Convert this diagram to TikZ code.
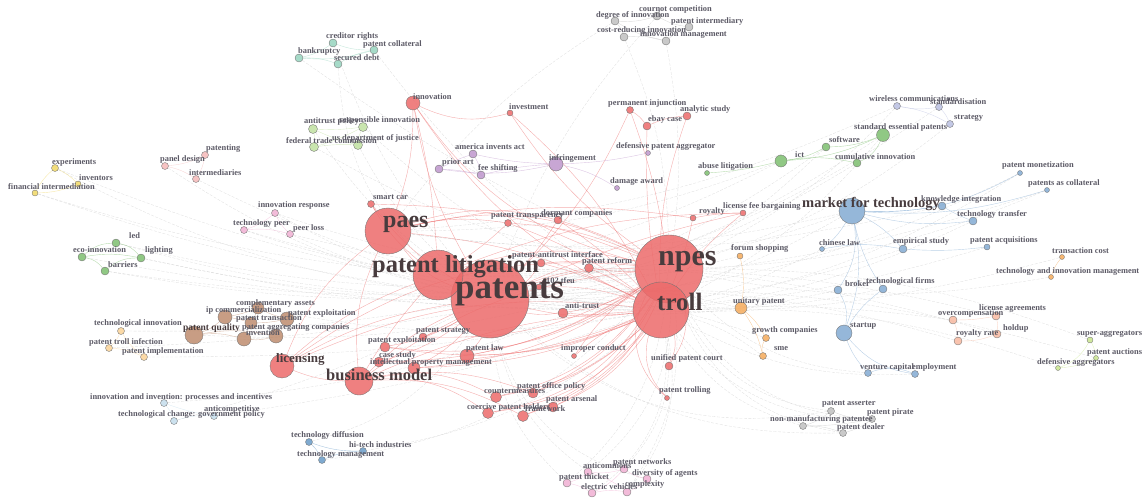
\documentclass[tikz,border=0pt]{standalone}
\usepackage{fontspec}
\setmainfont{Liberation Serif}
\pgfdeclarelayer{bg}
\pgfsetlayers{bg,main}
\definecolor{kRed}{RGB}{236,106,106}
\definecolor{kTeal}{RGB}{150,212,190}
\definecolor{kLGreen}{RGB}{192,225,160}
\definecolor{kGreen}{RGB}{125,190,110}
\definecolor{kPurple}{RGB}{190,150,205}
\definecolor{kGray}{RGB}{192,192,192}
\definecolor{kBlue}{RGB}{130,170,210}
\definecolor{kLav}{RGB}{185,190,225}
\definecolor{kBrown}{RGB}{190,140,110}
\definecolor{kPink}{RGB}{240,175,210}
\definecolor{kLPink}{RGB}{245,185,185}
\definecolor{kYellow}{RGB}{240,215,100}
\definecolor{kOrange}{RGB}{245,170,90}
\definecolor{kSalmon}{RGB}{248,185,160}
\definecolor{kLBlue}{RGB}{195,220,235}
\definecolor{kLime}{RGB}{200,228,140}
\definecolor{kPeach}{RGB}{250,210,150}
\definecolor{kSteel}{RGB}{105,155,200}
\definecolor{kLbl}{RGB}{92,90,102}
\definecolor{kBig}{RGB}{72,60,62}
\tikzset{
  dot/.style={circle,draw=black!55,line width=0.35pt,fill=#1,fill opacity=0.85,inner sep=0pt},
  lbl/.style={anchor=base west,inner sep=0pt,text=kLbl,font=\bfseries\fontsize{8.4}{9}\selectfont},
  big/.style={anchor=base west,inner sep=0pt,text=kBig,font=\bfseries\fontsize{#1}{#1}\selectfont},
  cedge/.style={draw=#1,line width=0.4pt,opacity=0.55},
  gedge/.style={draw=black!22,line width=0.35pt,opacity=0.55,dash pattern=on 3pt off 1.5pt}
}
\begin{document}
\begin{tikzpicture}[x=1pt,y=-1pt]
\useasboundingbox (0,0) rectangle (1146,498);
\foreach \n/\x/\y/\d/\c in {
  pat/490/299/78/kRed, plit/438/275/50/kRed, paes/388/231/46/kRed, npes/669/269/68/kRed, troll/661/310/56/kRed,
  bmod/359/381/28/kRed, lic/282/366/24/kRed, inno/413/103/14/kRed, inv/510/113/6/kRed,
  perm/630/110/7/kRed, anal/687/116/8/kRed, ebay/647/126/8/kRed, scar/371/204/7/kRed,
  ptrn/508/223/7/kRed, dorm/558/220/8/kRed, roy/693/218/6/kRed, lfb/743/213/6/kRed,
  pai/541/263/8/kRed, pref/589/268/9/kRed, tfeu/539/287/6/kRed, atr/563/313/10/kRed,
  pstr/423/337/8/kRed, pexr/385/347/10/kRed, case/379/362/10/kRed, ipm/414/368/12/kRed,
  plaw/467/356/14/kRed, impc/574/356/5/kRed, upc/669/366/8/kRed, ptrl/667/398/5/kRed,
  pop/533/393/10/kRed, ctm/496/397/11/kRed, pars/553/407/10/kRed, cph/488/413/11/kRed, frm/523/416/11/kRed,
  cred/333/43/8/kTeal, pcol/374/50/8/kTeal, bank/299/58/8/kTeal, secd/338/64/8/kTeal,
  cour/657/16/8/kGray, degi/615/21/8/kGray, pint/689/27/8/kGray, cost/624/37/8/kGray, imgt/666/41/8/kGray,
  atp/313/129/9/kLGreen, resp/363/127/9/kLGreen, ftc/314/147/9/kLGreen, doj/358/145/9/kLGreen,
  exper/55/168/7/kYellow, invt/78/184/6/kYellow, fint/35/193/6/kYellow,
  panel/165/166/7/kLPink, ptng/205/155/7/kLPink, inter/196/179/7/kLPink,
  iresp/275/213/7/kPink, tpeer/244/230/7/kPink, ploss/290/234/7/kPink,
  led/116/243/8/kGreen, eco/82/257/8/kGreen, light/141/258/8/kGreen, barr/105/271/8/kGreen,
  comp/258/308/12/kBrown, ipc/225/317/14/kBrown, pexb/287/319/14/kBrown, ptra/251/323/12/kBrown,
  pq/194/335/18/kBrown, pagg/276/336/14/kBrown, invn/244/339/14/kBrown,
  tinn/121/331/7/kPeach, ptin/109/348/7/kPeach, pimp/144/357/7/kPeach,
  iinv/164/403/7/kLBlue, anti/214/416/7/kLBlue, tcgp/174/421/7/kLBlue,
  tdif/309/442/7/kSteel, hti/363/451/7/kSteel, tmgt/322/460/7/kSteel,
  aia/473/154/8/kPurple, part/439/169/8/kPurple, fee/481/175/8/kPurple, infr/556/164/14/kPurple,
  dpa/648/153/5/kPurple, dmg/617/188/5/kPurple,
  abl/707/173/5/kGreen, sep/883/135/13/kGreen, soft/826/147/8/kGreen, ict/781/161/12/kGreen, cum/857/163/8/kGreen,
  wire/897/106/7/kLav, std/939/107/7/kLav, strat/950/124/7/kLav,
  mft/852/211/26/kBlue, pmon/1020/173/5/kBlue, pcoll/1047/190/5/kBlue, kint/942/206/8/kBlue,
  ttr/973/221/8/kBlue, chl/822/249/5/kBlue, emp/903/249/8/kBlue, pacq/987/247/6/kBlue,
  brok/838/290/8/kBlue, tfirm/883/289/8/kBlue, start/844/333/16/kBlue, vc/868/373/7/kBlue, empl/915/374/7/kBlue,
  fs/740/256/6/kOrange, up/741/308/12/kOrange, gc/766/338/7/kOrange, sme/763/356/7/kOrange,
  tcost/1062/257/5/kOrange, tim/1051/277/5/kOrange,
  ovc/953/320/8/kSalmon, lagr/996/316/8/kSalmon, hold/997/334/8/kSalmon, rrate/958/341/8/kSalmon,
  supa/1090/340/6/kLime, pauc/1096/358/5/kLime, dagg/1058/368/5/kLime,
  pass/831/411/7/kGray, ppir/872/419/7/kGray, nmp/803/426/7/kGray, pdeal/843/433/7/kGray,
  acom/588/472/8/kPink, pnet/624/469/8/kPink, div/647/479/8/kPink, pthk/567/483/8/kPink,
  cplx/627/492/8/kPink, ev/592/493/8/kPink}
  \node[dot=\c,minimum size=\d pt] (\n) at (\x,\y) {};
\begin{pgfonlayer}{bg}
\foreach \a/\b/\bd in {
  exper/pat/-10, fint/npes/-10, fint/pat/-5, panel/pat/-10, inter/troll/-10, iresp/npes/-10, tpeer/troll/-5,
  ploss/pat/-5, led/npes/-10, light/pat/-5, eco/troll/-5, barr/pat/-5, cred/pat/-10, pcol/troll/-10,
  bank/npes/-5, secd/plit/-20, atp/pat/-10, ftc/npes/-10, resp/troll/-10, doj/pat/-10, mft/pat/15,
  mft/plit/10, mft/paes/10, sep/pat/10, ict/paes/10, soft/npes/5, cum/pat/10, wire/paes/10, std/pat/10,
  pmon/troll/10, pcoll/npes/10, ttr/pat/15, pacq/troll/5, tcost/pat/10, tim/npes/10, ovc/troll/-5,
  rrate/pat/-10, supa/npes/-10, dagg/troll/-10, pauc/pat/-10, vc/npes/20, empl/troll/15, pass/npes/30,
  nmp/troll/20, pdeal/pat/20, ppir/npes/30, acom/pat/20, pthk/npes/-20, ev/troll/-30, div/pat/30,
  cplx/npes/-20, tdif/pat/-20, tmgt/npes/-20, hti/troll/-15, iinv/npes/-10, tcgp/pat/-5, anti/troll/-5,
  tinn/pat/-5, ptin/npes/-5, pimp/troll/-5, pq/npes/-10, comp/troll/-10, cour/pat/-10, cost/npes/10,
  imgt/troll/10, degi/paes/-10, chl/troll/5, emp/pat/10, brok/pat/10, tfirm/troll/5, gc/pat/-10,
  sme/troll/-10, fs/plit/10, up/pat/-10, lagr/npes/-5, hold/plit/-10, kint/paes/10,
  exper/troll/-8, led/pat/-6, light/troll/-6, barr/npes/-8, iresp/pat/-6, ploss/npes/-8, tpeer/plit/-5,
  pass/pat/25, ppir/troll/25, pdeal/npes/30, acom/npes/-25, pnet/troll/-25, pthk/pat/20, cplx/troll/-25,
  wire/npes/10, sep/troll/10, soft/pat/10, strat/npes/10, ict/plit/8, pmon/pat/12, pcoll/plit/10}
  \draw[gedge] (\a) to[bend left=\bd] (\b);
\foreach \a/\b/\bd in {
  pat/npes/10, pat/troll/-10, pat/paes/15, pat/plit/0, plit/npes/15, paes/npes/20, paes/troll/10,
  bmod/npes/15, bmod/troll/10, lic/npes/20, lic/troll/15, bmod/pat/10, lic/pat/10, lic/plit/10,
  bmod/plit/5, inno/paes/10, inno/pat/-10, inno/npes/-20, inno/inv/-20, inv/troll/10, inno/plit/5,
  scar/paes/0, scar/pat/-10, ptrn/npes/10, ptrn/paes/-10, dorm/paes/-15, dorm/npes/5, roy/lfb/5,
  roy/paes/-10, lfb/pat/-5, lfb/plit/-10, pai/npes/5, pai/pat/10, pref/troll/5, pref/pat/-5,
  tfeu/troll/10, atr/npes/-10, atr/pat/10, pstr/npes/-15, pexr/npes/-20, pexr/troll/-15, case/npes/-15,
  case/troll/-10, ipm/npes/-15, ipm/troll/-10, plaw/npes/-10, plaw/troll/-10, impc/troll/10, upc/troll/-20,
  ptrl/troll/30, ptrl/npes/40, pop/npes/-15, pop/troll/-10, ctm/npes/-20, ctm/troll/-15, pars/troll/-15,
  pars/npes/-20, cph/npes/-25, cph/troll/-20, frm/troll/-15, frm/npes/-20, ctm/bmod/-20, cph/bmod/-20,
  frm/bmod/-15, pop/bmod/-15, perm/ebay/10, ebay/anal/10, perm/pat/10, anal/troll/-10, pexr/pat/-10,
  case/pat/-10, ipm/pat/-10, plaw/pat/-10, pstr/pat/-5,
  ptrn/troll/8, dorm/troll/6, pai/troll/5, pref/npes/-5, atr/troll/-5, impc/npes/10, upc/npes/-25,
  perm/npes/5, ebay/troll/-5, inv/npes/-10, scar/npes/10, roy/troll/5, lfb/troll/-8, lic/bmod/-10,
  inno/troll/-15, scar/plit/-10, lic/paes/15, bmod/paes/15, ptrn/plit/5, dorm/pat/5}
  \draw[cedge=kRed] (\a) to[bend left=\bd] (\b);
\foreach \a/\b/\bd/\c in {
  aia/fee/10/kPurple, part/fee/5/kPurple, part/infr/-10/kPurple, fee/infr/5/kPurple, aia/infr/-5/kPurple,
  infr/dpa/-5/kPurple, infr/dmg/10/kPurple, part/aia/5/kPurple,
  cred/pcol/-10/kTeal, bank/cred/-10/kTeal, bank/secd/10/kTeal, secd/pcol/10/kTeal, bank/pcol/-10/kTeal,
  degi/cour/-10/kGray, cour/pint/-10/kGray, degi/cost/10/kGray, cost/imgt/10/kGray, pint/imgt/-10/kGray,
  degi/imgt/-10/kGray,
  atp/resp/-5/kLGreen, atp/ftc/10/kLGreen, ftc/doj/5/kLGreen, resp/doj/-10/kLGreen, atp/doj/-5/kLGreen,
  ftc/resp/-5/kLGreen,
  exper/invt/10/kYellow, invt/fint/10/kYellow, exper/fint/-10/kYellow,
  panel/ptng/-10/kLPink, panel/inter/10/kLPink, ptng/inter/10/kLPink,
  iresp/tpeer/10/kPink, tpeer/ploss/10/kPink, iresp/ploss/-10/kPink,
  led/eco/-20/kGreen, led/light/20/kGreen, eco/barr/20/kGreen, light/barr/-20/kGreen, eco/light/10/kGreen,
  pq/ipc/-10/kBrown, pq/invn/10/kBrown, ipc/ptra/5/kBrown, ptra/pexb/-5/kBrown, pexb/pagg/10/kBrown,
  pagg/invn/10/kBrown, comp/ptra/5/kBrown, comp/pexb/-5/kBrown, ipc/comp/-5/kBrown, pq/pagg/10/kBrown,
  tinn/ptin/10/kPeach, ptin/pimp/10/kPeach, tinn/pimp/-10/kPeach,
  iinv/tcgp/10/kLBlue, tcgp/anti/10/kLBlue, iinv/anti/-5/kLBlue,
  tdif/tmgt/10/kSteel, tmgt/hti/10/kSteel, tdif/hti/-10/kSteel,
  abl/ict/-5/kGreen, ict/soft/-10/kGreen, soft/sep/-10/kGreen, ict/cum/10/kGreen, cum/sep/-20/kGreen,
  ict/sep/-10/kGreen,
  wire/std/-10/kLav, std/strat/10/kLav, wire/strat/10/kLav,
  mft/kint/-5/kBlue, mft/ttr/-10/kBlue, mft/pmon/-15/kBlue, mft/pcoll/-10/kBlue, mft/chl/10/kBlue,
  mft/emp/10/kBlue, emp/pacq/-5/kBlue, chl/emp/10/kBlue, mft/brok/20/kBlue, mft/tfirm/-10/kBlue,
  brok/start/20/kBlue, tfirm/start/-10/kBlue, start/vc/-10/kBlue, vc/empl/20/kBlue, start/empl/-20/kBlue,
  mft/start/15/kBlue, ttr/kint/5/kBlue,
  fs/up/10/kOrange, up/gc/10/kOrange, gc/sme/-20/kOrange, tcost/tim/-10/kOrange, up/sme/10/kOrange,
  ovc/lagr/-5/kSalmon, ovc/rrate/10/kSalmon, rrate/hold/-10/kSalmon, lagr/hold/10/kSalmon,
  supa/dagg/20/kLime, dagg/pauc/-10/kLime, supa/pauc/10/kLime,
  pass/ppir/-10/kGray, nmp/pass/-10/kGray, nmp/pdeal/10/kGray, pdeal/ppir/-10/kGray, nmp/ppir/-5/kGray,
  acom/pnet/-10/kPink, pnet/div/-10/kPink, pthk/acom/-10/kPink, pthk/ev/10/kPink, ev/cplx/10/kPink,
  cplx/div/-10/kPink, acom/cplx/10/kPink, pnet/ev/10/kPink}
  \draw[cedge=\c] (\a) to[bend left=\bd] (\b);
\end{pgfonlayer}
\foreach \n/\x/\y/\t in {
  cred/326/38/creditor rights, pcol/363/46/patent collateral, bank/298/53/bankruptcy, secd/334/60/secured debt,
  cour/639/11/cournot competition, degi/596/17/degree of innovation, pint/671/23/patent intermediary,
  cost/597/32/cost-reducing innovation, imgt/640/36/innovation management,
  atp/304/123/antitrust policy, resp/339/122/responsible innovation, ftc/286/143/federal trade commission,
  doj/332/140/us department of justice, exper/52/164/experiments, invt/79/180/inventors,
  fint/8/189/financial intermediation, panel/160/161/panel design, ptng/206/150/patenting,
  inter/189/175/intermediaries, iresp/258/207/innovation response, tpeer/233/225/technology peer,
  ploss/293/230/peer loss, led/129/238/led, eco/73/252/eco-innovation, light/145/252/lighting,
  barr/108/267/barriers, comp/236/305/complementary assets, ipc/206/312/ip commercialization,
  pexb/288/315/patent exploitation, ptra/236/320/patent transaction, pagg/242/329/patent aggregating companies,
  invn/246/335/invention, tinn/94/325/technological innovation, ptin/89/344/patent troll infection,
  pimp/122/353/patent implementation, iinv/90/399/innovation and invention: processes and incentives,
  anti/204/411/anticompetitive, tcgp/118/416/technological change: government policy,
  tdif/291/437/technology diffusion, hti/349/447/hi-tech industries, tmgt/297/456/technology management,
  inno/413/99/innovation, inv/509/109/investment, perm/608/105/permanent injunction,
  anal/680/111/analytic study, ebay/648/121/ebay case, dpa/616/148/defensive patent aggregator,
  aia/455/149/america invents act, part/442/164/prior art, fee/478/170/fee shifting,
  infr/549/160/infringement, abl/698/168/abuse litigation, scar/373/199/smart car,
  wire/869/101/wireless communications, std/930/104/standardisation, strat/954/119/strategy,
  sep/854/129/standard essential patents, soft/829/142/software, ict/795/157/ict,
  cum/835/159/cumulative innovation, pmon/1002/167/patent monetization, pcoll/1028/185/patents as collateral,
  lfb/723/208/license fee bargaining, roy/699/213/royalty, fs/731/250/forum shopping,
  kint/921/201/knowledge integration, ttr/957/216/technology transfer, chl/819/245/chinese law,
  emp/893/243/empirical study, pacq/970/242/patent acquisitions, tcost/1052/253/transaction cost,
  tim/996/273/technology and innovation management, brok/845/286/broker, tfirm/866/283/technological firms,
  start/850/327/startup, gc/752/332/growth companies, sme/774/350/sme, up/733/303/unitary patent,
  ovc/938/315/overcompensation, lagr/979/310/license agreements, hold/1003/330/holdup,
  rrate/956/335/royalty rate, supa/1077/335/super-aggregators, pauc/1087/354/patent auctions,
  dagg/1037/364/defensive aggregators, vc/860/369/venture capital, empl/912/369/employment,
  pass/822/405/patent asserter, ppir/867/414/patent pirate, nmp/770/421/non-manufacturing patentee,
  pdeal/837/429/patent dealer, ptrn/491/217/patent transparency, dorm/541/215/dormant companies,
  dmg/610/183/damage award, pai/512/257/patent-antitrust interface, pref/582/263/patent reform,
  tfeu/546/283/102 tfeu, atr/565/308/anti-trust, pstr/416/332/patent strategy,
  pexr/368/342/patent exploitation, case/379/357/case study, ipm/370/364/intellectual property management,
  plaw/466/350/patent law, impc/561/350/improper conduct, upc/651/360/unified patent court,
  ptrl/659/392/patent trolling, pop/517/388/patent office policy, ctm/484/393/countermeasures,
  pars/546/401/patent arsenal, cph/467/409/coercive patent holders, frm/525/411/framework,
  acom/583/468/anticommons, pnet/613/464/patent networks, div/632/475/diversity of agents,
  pthk/559/479/patent thicket, cplx/625/486/complexity, ev/581/489/electric vehicles}
  \node[lbl] (\n-l) at (\x,\y) {\t};
\foreach \n/\x/\y/\s/\t in {
  paes/383/227/24/paes, plit/372/272/24.5/patent litigation, pat/455/298/35/patents,
  npes/658/265/30/npes, troll/657/310/25/troll, bmod/326/380/16.5/business model,
  lic/276/362/13/licensing, mft/802/207/14.5/market for technology, pq/183/330/9.5/patent quality}
  \node[big=\s] (\n-l) at (\x,\y) {\t};
\end{tikzpicture}
\end{document}
